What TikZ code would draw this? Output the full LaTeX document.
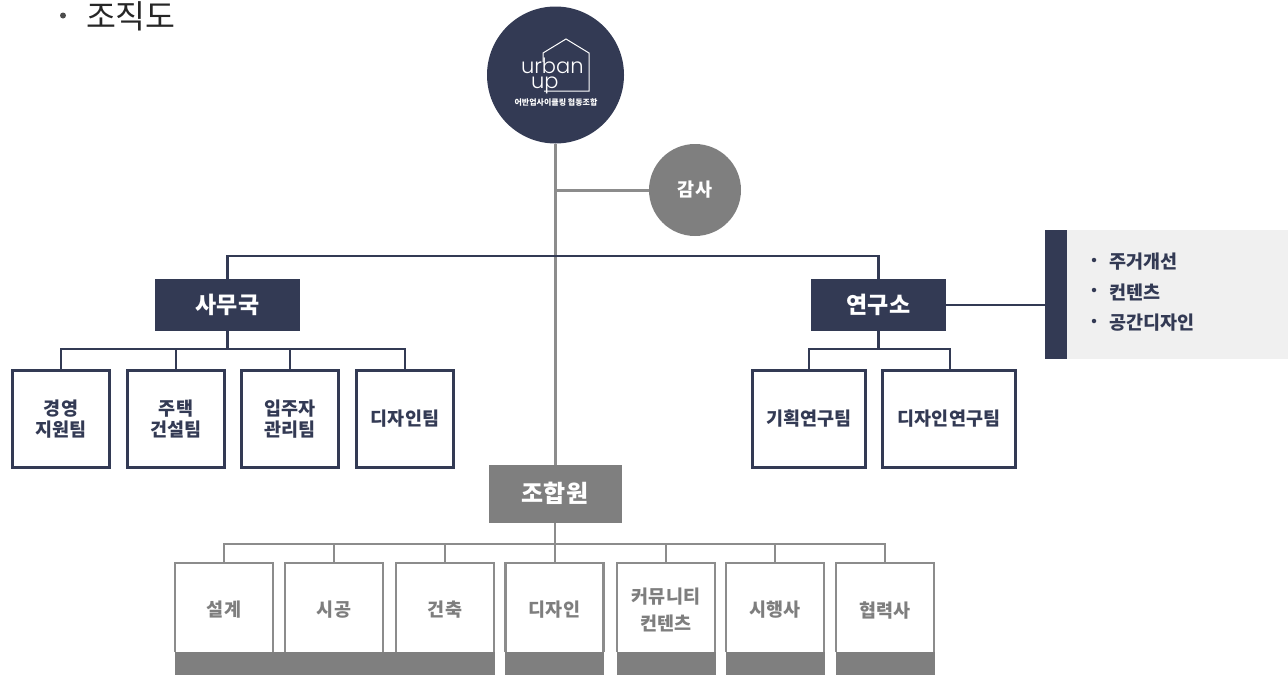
\documentclass[tikz,border=0pt]{standalone}
\usepackage{fontspec}
\setmainfont{Noto Sans CJK KR}
\newfontfamily\logofont{Poppins Light}
\usetikzlibrary{positioning,calc}
\definecolor{navy}{HTML}{333A54}
\definecolor{midgray}{HTML}{7F7F7F}
\definecolor{linegray}{HTML}{8C8C8C}
\definecolor{panelgray}{HTML}{F0F0F0}
\tikzset{
  every node/.style={inner sep=0pt,outer sep=0pt,align=center},
  navybox/.style={fill=navy,text=white,font=\bfseries\fontsize{23}{26}\selectfont,minimum height=52pt},
  teambox/.style={draw=navy,line width=2.1pt,fill=white,text=navy,font=\bfseries\fontsize{18.5}{22}\selectfont,minimum height=97pt,minimum width=97pt},
  strip/.style={fill=midgray,minimum height=23pt},
  navyline/.style={draw=navy,line width=2.1pt},
  grayline/.style={draw=linegray,line width=3pt},
  thinline/.style={draw=linegray,line width=2.1pt},
}
\begin{document}
\begin{tikzpicture}[x=1pt,y=-1pt]
\useasboundingbox (0,0) rectangle (1288,675);
% title
\node[anchor=west,font=\fontsize{32.5}{34}\selectfont,text=black!85] (title) at (86,16) {조직도};
\node[circle,fill=black!70,minimum size=6pt] (titledot) at (63,15.5) {};
% trunk nodes
\node[circle,fill=navy,minimum size=137pt] (root) at (555.5,75) {};
\node[circle,fill=midgray,minimum size=92pt,text=white,font=\bfseries\fontsize{18.5}{20}\selectfont] (audit) at (695,190) {감사};
\node[fill=midgray,text=white,font=\bfseries\fontsize{24}{26}\selectfont,minimum width=133pt,minimum height=58pt] (members) at (555,493.5) {조합원};
\coordinate (auditjoin) at (555,190);
\coordinate (barjoin) at (555,256);
% logo
\draw[white,line width=1pt,line join=miter] (543,62) -- (543,53) -- (566,39) -- (589,53) -- (589,91) -- (544,91);
\node[anchor=base west,align=left,text=white,font=\logofont\fontsize{21}{15}\selectfont] (logo) at (521,88) {urban\\\hspace*{10pt}up};
\node[text=white,font=\bfseries\fontsize{8}{9}\selectfont] (logosub) at (556,102.5) {어반업사이클링 협동조합};
% offices
\node[navybox,minimum width=145pt] (office) at (227.5,305) {사무국};
\node[navybox,minimum width=135pt] (lab) at (878.5,305) {연구소};
% panel
\node[fill=panelgray,minimum width=221pt,minimum height=129pt,anchor=west] (panel) at (1067,294.5) {};
\node[fill=navy,minimum width=22pt,minimum height=129pt,anchor=west] (panelbar) at (1045,294.5) {};
\foreach \i/\y/\t in {a/262/주거개선,b/292/컨텐츠,c/323/공간디자인}{
  \node[anchor=west,text=navy,font=\bfseries\fontsize{18.5}{20}\selectfont] (item\i) at (1109,\y) {\t};
  \node[circle,fill=navy,minimum size=4.5pt] (dot\i) at (1094,\y-2) {};
}
% teams
\node[teambox] (t1) at (61,419) {\raisebox{2pt}{\shortstack{경영\\[1pt]지원팀}}};
\node[teambox] (t2) at (176,419) {\raisebox{2pt}{\shortstack{주택\\[1pt]건설팀}}};
\node[teambox] (t3) at (290,419) {\raisebox{2pt}{\shortstack{입주자\\[1pt]관리팀}}};
\node[teambox] (t4) at (405,419) {\raisebox{2pt}{디자인팀}};
\node[teambox,minimum width=113pt] (r1) at (809,419) {\raisebox{2pt}{기획연구팀}};
\node[teambox,minimum width=133pt] (r2) at (949,419) {\raisebox{2pt}{디자인연구팀}};
% member strips
\node[strip,minimum width=320pt] (s1) at (335,663.5) {};
\node[strip,minimum width=99pt] (s2) at (554.5,663.5) {};
\node[strip,minimum width=99pt] (s3) at (666.5,663.5) {};
\node[strip,minimum width=99pt] (s4) at (775.5,663.5) {};
\node[strip,minimum width=99pt] (s5) at (885.5,663.5) {};
% member boxes
\foreach \n/\x/\t in {m1/224/설계,m2/334/시공,m3/445/건축,m4/554.5/디자인,m5/666/커뮤니티\\컨텐츠,m6/775/시행사,m7/885/협력사}{
  \coordinate (\n) at (\x,563);
  \draw[draw=linegray,line width=2.1pt] (\x-49,652) |- (\x+49,563) -- (\x+49,652);
  \node[text=linegray!90!black,font=\bfseries\fontsize{18.5}{26.5}\selectfont] (\n txt) at (\x,610) {\t};
}
% connectors: grey trunk
\draw[grayline] (root.south -| members.north) -- (members.north);
\draw[grayline] (auditjoin) -- (audit.west);
% navy bars
\draw[navyline] (office.north) |- (barjoin) -| (lab.north);
\coordinate (ob) at (227.5,349);
\draw[navyline] (office.south) -- (ob);
\draw[navyline] (t1.north) |- (ob) -| (t4.north);
\draw[navyline] (t2.north) |- (ob);
\draw[navyline] (t3.north) |- (ob);
\coordinate (lb) at (878.5,349);
\coordinate (r2top) at (950,370);
\draw[navyline] (lab.south) -- (lb);
\draw[navyline] (r1.north) |- (lb) -| (r2top);
\draw[navyline] (lab.east) -- (panelbar.west |- lab.east);
% member connectors
\coordinate (mb) at (555,544);
\draw[thinline] (members.south) -- (m4 -| members.south);
\draw[thinline] (m1) |- (mb) -| (m7);
\foreach \n in {m2,m3,m5,m6}{\draw[thinline] (\n) -- (\n |- mb);}
\end{tikzpicture}
\end{document}
